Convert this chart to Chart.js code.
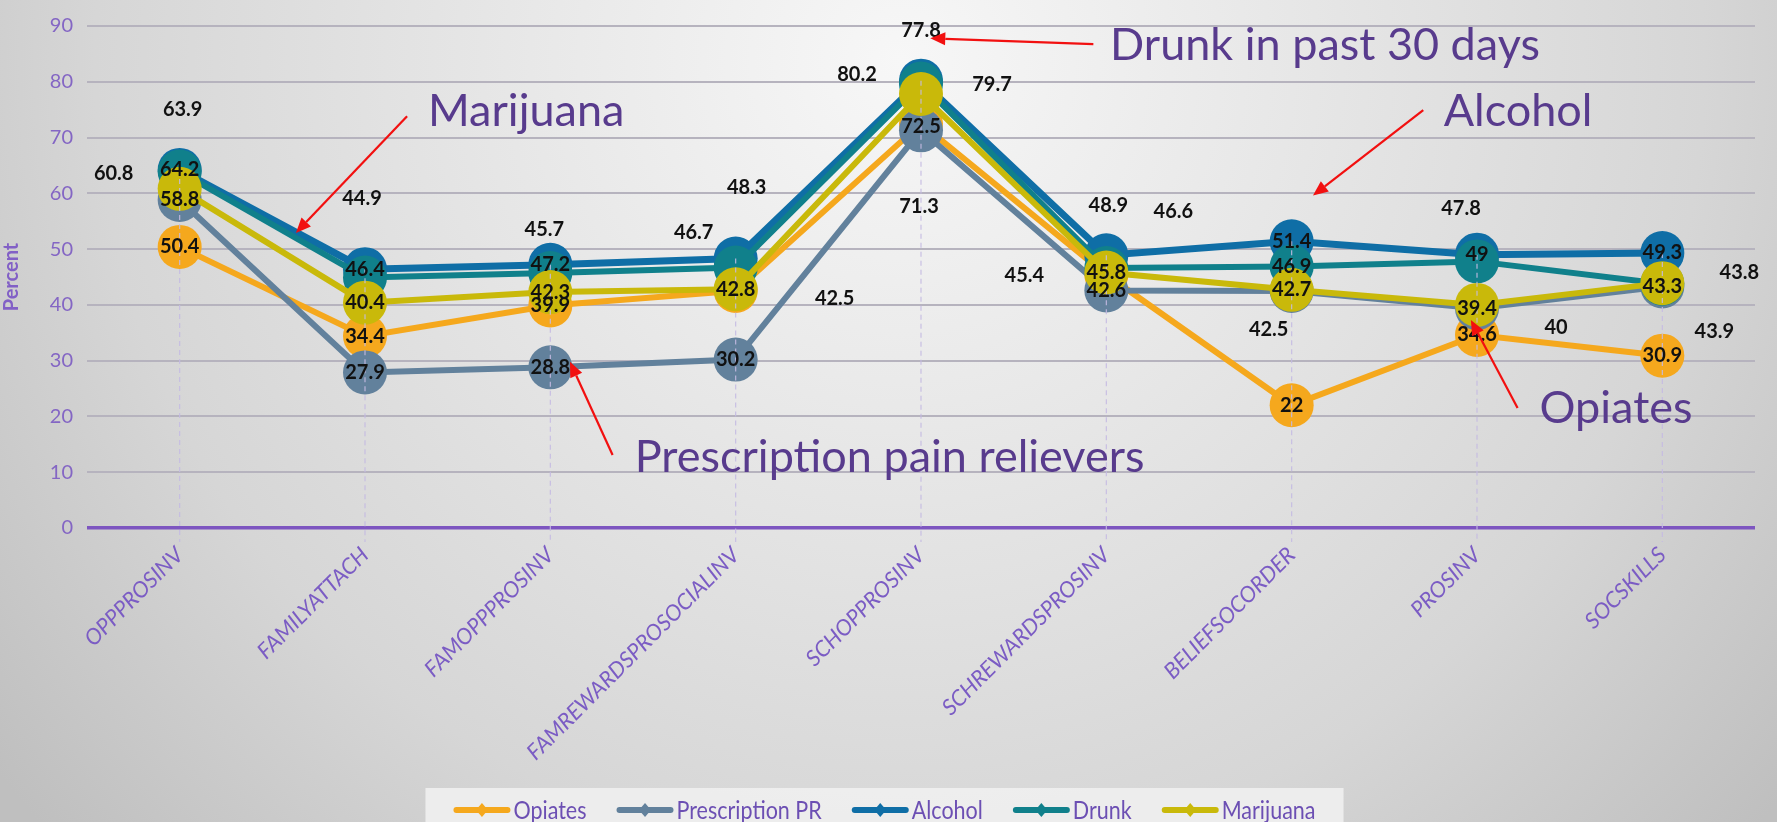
<!DOCTYPE html>
<html>
<head>
<meta charset="utf-8">
<script src="https://cdn.jsdelivr.net/npm/chart.js@4.4.1/dist/chart.umd.min.js"></script>
<style>
  html, body { margin: 0; padding: 0; background: #dcdcdc; overflow: hidden; }
</style>
</head>
<body>
<canvas id="myChart" width="1777" height="822"></canvas>
<script>
const categories = ['OPPPROSINV', 'FAMILYATTACH', 'FAMOPPPROSINV', 'FAMREWARDSPROSOCIALINV', 'SCHOPPROSINV',
    'SCHREWARDSPROSINV', 'BELIEFSOCORDER', 'PROSINV', 'SOCSKILLS'];
const opiates = [50.4, 34.4, 39.9, 42.5, 72.5, 45.4, 22, 34.6, 30.9];
const prescriptionPR = [58.8, 27.9, 28.8, 30.2, 71.3, 42.6, 42.5, 39.4, 43.3];
const alcohol = [64.2, 46.4, 47.2, 48.3, 80.2, 48.9, 51.4, 49, 49.3];
const drunk = [63.9, 44.9, 45.7, 46.7, 79.7, 46.6, 46.9, 47.8, 43.8];
const marijuana = [60.8, 40.4, 42.3, 42.8, 77.8, 45.8, 42.7, 40, 43.9];
const yTicks = [0, 10, 20, 30, 40, 50, 60, 70, 80, 90];

// value labels that were dragged away from their marker (pixels)
const labelShift = {
    'Opiates': { 3: [99, 8], 4: [0, 3], 5: [-82, 1] },
    'Prescription PR': { 4: [-2, 76], 6: [-23, 39] },
    'Alcohol': { 3: [11, -71], 4: [-64, -6], 5: [2, -50] },
    'Drunk': { 0: [3, -62], 1: [-3, -79], 2: [-6, -44], 3: [-42, -35], 4: [71, 1], 5: [67, -57], 7: [-16, -53], 8: [77, -11] },
    'Marijuana': { 0: [-66, -15], 4: [0, -64], 7: [79, 23], 8: [52, 48] }
};

// callout texts and arrows, in axis units (category index, percent)
const notes = [
    { text: 'Marijuana', x: 1.34, y: 72.0 },
    { text: 'Drunk in past 30 days', x: 5.02, y: 83.9 },
    { text: 'Alcohol', x: 6.82, y: 72.0 },
    { text: 'Prescription pain relievers', x: 2.455, y: 10.1 },
    { text: 'Opiates', x: 7.337, y: 18.8 }
];
const arrows = [
    { from: [1.227, 73.8], to: [0.627, 52.9] },
    { from: [4.93, 86.75], to: [4.05, 87.8] },
    { from: [6.71, 74.9], to: [6.115, 59.6] },
    { from: [2.336, 13.1], to: [2.106, 29.8] },
    { from: [7.219, 21.5], to: [6.967, 37.3] }
];

const series = [
    { label: 'Opiates', data: opiates, color: '#f5a81d', width: 6, order: 5 },
    { label: 'Prescription PR', data: prescriptionPR, color: '#62819c', width: 6, order: 4 },
    { label: 'Alcohol', data: alcohol, color: '#0f6ea6', width: 7, order: 3 },
    { label: 'Drunk', data: drunk, color: '#10808b', width: 6, order: 2 },
    { label: 'Marijuana', data: marijuana, color: '#c9b90a', width: 6, order: 1 }
];

const purple = '#8466c4';

const bgPlugin = {
    id: 'bg',
    beforeDraw(chart) {
        const { ctx, width, height } = chart;
        const g = ctx.createRadialGradient(900, 60, 0, 900, 60, 1150);
        g.addColorStop(0, '#f7f7f7');
        g.addColorStop(0.3, '#e9e9e9');
        g.addColorStop(0.7, '#d6d6d6');
        g.addColorStop(1, '#bfbfbf');
        ctx.save();
        ctx.fillStyle = g;
        ctx.fillRect(0, 0, width, height);
        ctx.restore();
    }
};

const dropLines = {
    id: 'dropLines',
    afterDatasetsDraw(chart) {
        const { ctx } = chart;
        const xs = chart.scales.x, ys = chart.scales.y;
        ctx.save();
        ctx.setLineDash([5, 4]);
        ctx.strokeStyle = 'rgba(196,186,226,0.9)';
        ctx.lineWidth = 1.2;
        categories.forEach((c, i) => {
            const top = Math.max(...chart.data.datasets.map(d => d.data[i]));
            const px = xs.getPixelForValue(i);
            ctx.beginPath();
            ctx.moveTo(px, ys.getPixelForValue(top));
            ctx.lineTo(px, ys.bottom + 14);
            ctx.stroke();
        });
        ctx.restore();
    }
};

const valueLabels = {
    id: 'valueLabels',
    afterDatasetsDraw(chart) {
        const { ctx } = chart;
        ctx.save();
        ctx.font = 'bold 20px Lato';
        ctx.fillStyle = '#111';
        ctx.textAlign = 'center';
        ctx.textBaseline = 'middle';
        chart.data.datasets.forEach((ds, di) => {
            const meta = chart.getDatasetMeta(di);
            const shift = labelShift[ds.label] || {};
            meta.data.forEach((pt, i) => {
                const s = shift[i] || [0, 0];
                ctx.fillText(String(ds.data[i]), pt.x + s[0], pt.y + s[1]);
            });
        });
        ctx.restore();
    }
};

const callouts = {
    id: 'callouts',
    afterDraw(chart) {
        const { ctx } = chart;
        const xs = chart.scales.x, ys = chart.scales.y;
        ctx.save();
        ctx.font = '45px Lato';
        ctx.fillStyle = '#583b8d';
        ctx.textAlign = 'left';
        ctx.textBaseline = 'alphabetic';
        notes.forEach(n => ctx.fillText(n.text, xs.getPixelForValue(n.x), ys.getPixelForValue(n.y)));

        ctx.strokeStyle = '#f21010';
        ctx.fillStyle = '#f21010';
        ctx.lineWidth = 2.2;
        arrows.forEach(a => {
            const x0 = xs.getPixelForValue(a.from[0]), y0 = ys.getPixelForValue(a.from[1]);
            const x1 = xs.getPixelForValue(a.to[0]), y1 = ys.getPixelForValue(a.to[1]);
            const ang = Math.atan2(y1 - y0, x1 - x0);
            const len = 15, half = 6.5;
            const bx = x1 - len * Math.cos(ang), by = y1 - len * Math.sin(ang);
            ctx.beginPath();
            ctx.moveTo(x0, y0);
            ctx.lineTo(bx, by);
            ctx.stroke();
            ctx.beginPath();
            ctx.moveTo(x1, y1);
            ctx.lineTo(bx + half * Math.sin(ang), by - half * Math.cos(ang));
            ctx.lineTo(bx - half * Math.sin(ang), by + half * Math.cos(ang));
            ctx.closePath();
            ctx.fill();
        });
        ctx.restore();
    }
};

// legend drawn by hand: condensed text, line + marker swatch
const bottomLegend = {
    id: 'bottomLegend',
    afterDraw(chart) {
        const { ctx } = chart;
        const top = chart.scales.x.bottom;
        const lineW = 57, gapText = 3, gapItem = 30, squeeze = 0.86;
        ctx.save();
        ctx.font = '25px Lato';
        const items = chart.data.datasets.map(ds => ({ label: ds.label, color: ds.borderColor, tw: ctx.measureText(ds.label).width * squeeze }));
        const total = items.reduce((s, it) => s + lineW + gapText + it.tw, 0) + gapItem * (items.length - 1);
        let x = (chart.width - total) / 2 - 4;
        ctx.fillStyle = 'rgba(240,240,240,0.9)';
        ctx.fillRect(x - 28, top, total + 56, chart.height - top);
        const cy = top + 22;
        items.forEach(it => {
            ctx.strokeStyle = it.color;
            ctx.lineWidth = 6;
            ctx.lineCap = 'round';
            ctx.beginPath();
            ctx.moveTo(x + 3, cy);
            ctx.lineTo(x + lineW - 3, cy);
            ctx.stroke();
            ctx.fillStyle = it.color;
            const mx = x + lineW / 2;
            ctx.beginPath();
            ctx.moveTo(mx, cy - 7);
            ctx.lineTo(mx + 6, cy);
            ctx.lineTo(mx, cy + 7);
            ctx.lineTo(mx - 6, cy);
            ctx.closePath();
            ctx.fill();
            ctx.fillStyle = '#6c4fb3';
            ctx.textBaseline = 'middle';
            ctx.save();
            ctx.translate(x + lineW + gapText, cy);
            ctx.scale(squeeze, 1);
            ctx.fillText(it.label, 0, 1);
            ctx.restore();
            x += lineW + gapText + it.tw + gapItem;
        });
        ctx.restore();
    }
};

const chart = new Chart(document.getElementById('myChart'), {
    type: 'line',
    data: {
        labels: categories,
        datasets: series.map(s => ({
            label: s.label,
            data: s.data,
            order: s.order,
            borderColor: s.color,
            backgroundColor: s.color,
            pointBackgroundColor: s.color,
            borderWidth: s.width,
            pointRadius: 22,
            pointBorderWidth: 0,
            tension: 0,
            fill: false
        }))
    },
    options: {
        responsive: false,
        animation: false,
        layout: { padding: { top: 20, right: 11, bottom: 34, left: 0 } },
        plugins: {
            legend: { display: false },
            tooltip: { enabled: false }
        },
        scales: {
            x: {
                offset: true,
                grid: { display: false },
                border: { display: false },
                ticks: {
                    color: '#7b5cc4',
                    font: { family: 'Lato', size: 22, style: 'italic' },
                    minRotation: 45,
                    maxRotation: 45,
                    autoSkip: false,
                    padding: 6
                },
                afterFit: s => { s.height = 260; }
            },
            y: {
                min: 0,
                max: 90,
                afterBuildTicks: s => { s.ticks = yTicks.map(v => ({ value: v })); },
                ticks: { color: purple, font: { family: 'Lato', size: 20 }, padding: 14 },
                grid: {
                    color: c => c.tick.value === 0 ? '#7d55c0' : '#b6b3be',
                    lineWidth: c => c.tick.value === 0 ? 3.5 : 2,
                    drawTicks: false
                },
                border: { display: false },
                title: {
                    display: true,
                    text: 'Percent',
                    color: '#8260c6',
                    font: { family: 'Lato', size: 20, weight: 'bold' },
                    padding: 0
                },
                afterFit: s => { s.width = 87; }
            }
        }
    },
    plugins: [bgPlugin, dropLines, valueLabels, callouts, bottomLegend]
});
</script>
</body>
</html>
